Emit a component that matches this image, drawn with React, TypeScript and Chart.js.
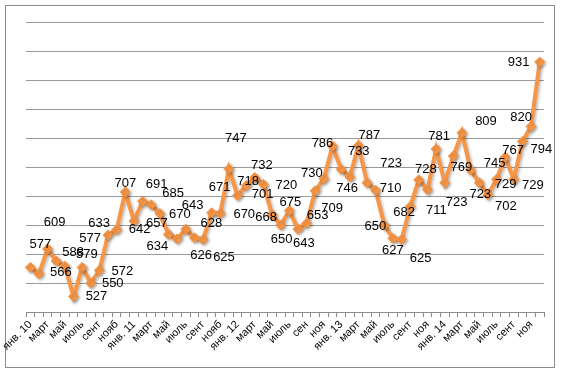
import React, { useEffect, useRef } from "react";
import { Chart, registerables } from "chart.js";

Chart.register(...registerables);

const tickLabels = [
  "янв. 10", "март", "май", "июль", "сент", "нояб",
  "янв. 11", "март", "май", "июль", "сент", "нояб",
  "янв. 12", "март", "май", "июль", "сен", "ноя",
  "янв. 13", "март", "май", "июль", "сент", "ноя",
  "янв. 14", "март", "май", "июль", "сент", "ноя",
];

const values = [
  577, 566, 609, 588, 579, 527, 577, 550, 572, 633, 642, 707,
  657, 691, 685, 670, 634, 626, 643, 628, 625, 671, 670, 747,
  701, 718, 732, 720, 668, 650, 675, 643, 653, 709, 730, 786,
  746, 733, 787, 723, 710, 650, 627, 625, 682, 728, 711, 781,
  723, 769, 809, 745, 723, 702, 729, 767, 729, 794, 820, 931,
];

// label placement relative to each point (style only)
const labelOffsets: [number, number][] = [
  [10, -23], [22, -1], [7, -26], [17, -9], [22, -12], [23, 0], [8, -29], [22, 0], [23, 1], [-9, -11], [23, 0], [0, -9],
  [23, 2], [14, -17], [22, -11], [20, 1], [-11, 12], [24, 16], [7, -24], [17, -14], [21, 18], [8, -25], [24, 1], [7, -30],
  [25, -1], [2, -4], [7, -12], [23, 1], [-6, 3], [1, 14], [1, -8], [6, 14], [11, -8], [17, 18], [-12, -5], [-10, -3],
  [6, 19], [9, -25], [11, -10], [24, -19], [15, -2], [-9, 1], [0, 12], [19, 19], [-6, 6], [7, -10], [9, 21], [3, -13],
  [12, 20], [8, 11], [24, -11], [24, -7], [1, 12], [18, 12], [9, 5], [8, -7], [19, 6], [19, 8], [-10, -9], [-21, 0],
];

const categories = values.map((_, i) => (i % 2 === 0 ? tickLabels[i / 2] : ""));

const ORANGE = "#F79646";

export default function App() {
  const ref = useRef<HTMLCanvasElement | null>(null);

  useEffect(() => {
    document.body.style.margin = "0";
    const canvas = ref.current;
    if (!canvas) return;

    const frame = {
      id: "frame",
      beforeDraw(chart: any) {
        const ctx = chart.ctx;
        ctx.save();
        ctx.fillStyle = "#ffffff";
        ctx.fillRect(0, 0, chart.width, chart.height);
        ctx.strokeStyle = "#8a8a8a";
        ctx.lineWidth = 1;
        ctx.strokeRect(5.5, 5.5, 549, 362);
        ctx.restore();
      },
    };

    const shadow = {
      id: "shadow",
      beforeDatasetsDraw(chart: any) {
        const ctx = chart.ctx;
        ctx.save();
        ctx.shadowColor = "rgba(0,0,0,0.28)";
        ctx.shadowBlur = 3;
        ctx.shadowOffsetX = 1.5;
        ctx.shadowOffsetY = 1.5;
      },
      afterDatasetsDraw(chart: any) {
        chart.ctx.restore();
      },
    };

    const dataLabels = {
      id: "dataLabels",
      afterDatasetsDraw(chart: any) {
        const ctx = chart.ctx;
        const meta = chart.getDatasetMeta(0);
        ctx.save();
        ctx.font = "13px 'Liberation Sans', Arial, sans-serif";
        ctx.fillStyle = "#000000";
        ctx.textAlign = "center";
        ctx.textBaseline = "middle";
        meta.data.forEach((pt: any, i: number) => {
          const [dx, dy] = labelOffsets[i] || [0, -14];
          ctx.fillText(String(values[i]), pt.x + dx, pt.y + dy);
        });
        ctx.restore();
      },
    };

    const chart = new Chart(canvas, {
      type: "line",
      data: {
        labels: categories,
        datasets: [
          {
            data: values,
            borderColor: ORANGE,
            backgroundColor: ORANGE,
            borderWidth: 4,
            pointStyle: "rectRot",
            pointRadius: 5,
            pointBackgroundColor: ORANGE,
            pointBorderColor: ORANGE,
            pointBorderWidth: 1,
            tension: 0,
          },
        ],
      },
      options: {
        responsive: false,
        animation: false,
        devicePixelRatio: 1,
        layout: { padding: { left: 26, right: 17, top: 22, bottom: 20 } },
        plugins: {
          legend: { display: false },
          tooltip: { enabled: false },
          title: { display: false },
        },
        scales: {
          x: {
            offset: true,
            grid: {
              offset: true,
              drawOnChartArea: false,
              drawTicks: true,
              tickLength: 5,
              color: "#8a8a8a",
            },
            border: { display: true, color: "#8a8a8a", width: 1 },
            ticks: {
              autoSkip: false,
              maxRotation: 45,
              minRotation: 45,
              padding: 1,
              color: "#000000",
              font: { family: "'Liberation Sans', Arial, sans-serif", size: 11 },
            },
          },
          y: {
            min: 500,
            max: 1000,
            ticks: { display: false, stepSize: 50 },
            grid: { color: "#9a9a9a", drawTicks: false, lineWidth: 1 },
            border: { display: false },
          },
        },
      },
      plugins: [frame, shadow, dataLabels],
    });

    return () => chart.destroy();
  }, []);

  return (
    <div style={{ width: 561, height: 374 }}>
      <canvas ref={ref} width={561} height={374} style={{ display: "block" }} />
    </div>
  );
}
